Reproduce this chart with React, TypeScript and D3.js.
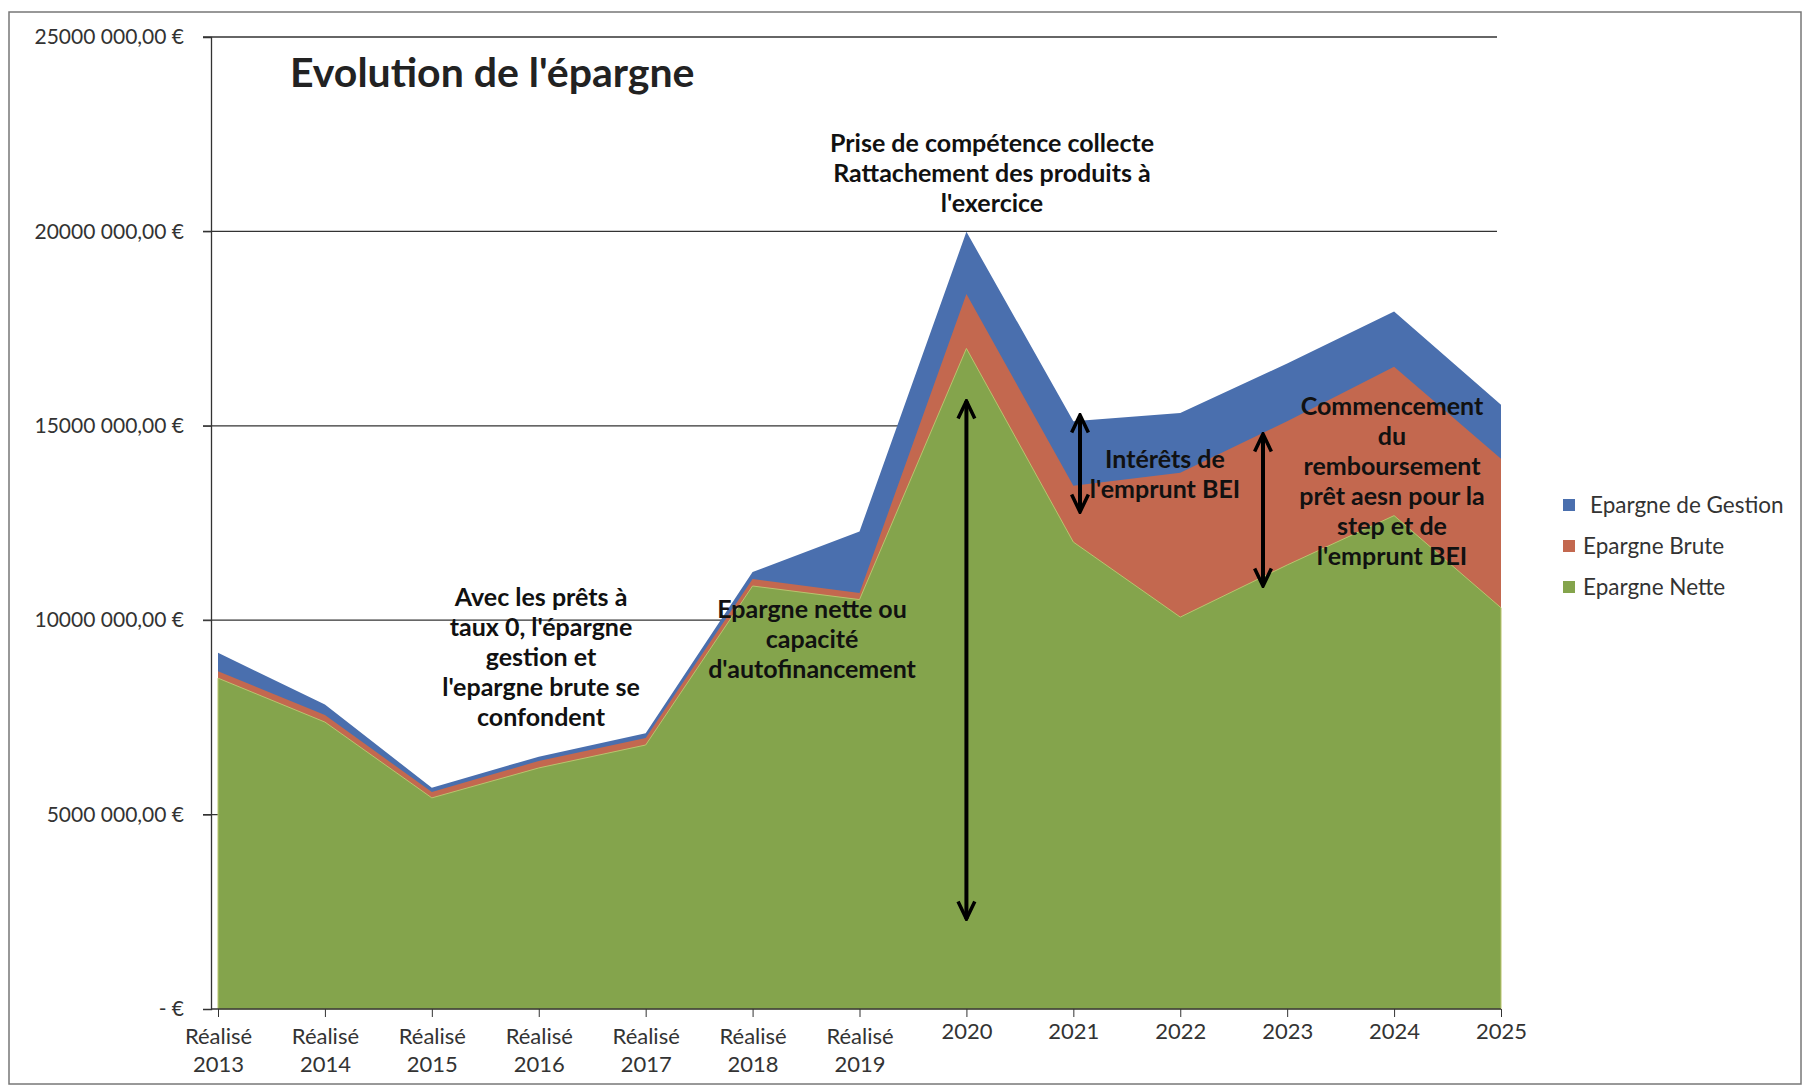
import React, { useEffect, useRef } from "react";
import * as d3 from "d3";

// categories on the x axis
const years = [
  "Réalisé 2013", "Réalisé 2014", "Réalisé 2015", "Réalisé 2016", "Réalisé 2017",
  "Réalisé 2018", "Réalisé 2019", "2020", "2021", "2022", "2023", "2024", "2025",
];

// values, in euros
const epargneGestion = [9.16e6, 7.83e6, 5.69e6, 6.49e6, 7.09e6, 11.24e6, 12.28e6, 19.99e6, 15.12e6, 15.33e6, 16.6e6, 17.94e6, 15.54e6];
const epargneBrute = [8.69e6, 7.56e6, 5.58e6, 6.38e6, 6.97e6, 11.06e6, 10.7e6, 18.39e6, 13.46e6, 13.79e6, 15.12e6, 16.52e6, 14.15e6];
const epargneNette = [8.51e6, 7.38e6, 5.43e6, 6.2e6, 6.79e6, 10.88e6, 10.53e6, 16.99e6, 12.01e6, 10.08e6, 11.42e6, 12.69e6, 10.32e6];

const yTicks = [0, 5e6, 10e6, 15e6, 20e6, 25e6];
const yTickLabels = ["-  €", "5000 000,00 €", "10000 000,00 €", "15000 000,00 €", "20000 000,00 €", "25000 000,00 €"];

const seriesNames = ["Epargne de Gestion", "Epargne Brute", "Epargne Nette"];
const seriesColors = ["#4a6fae", "#c3684f", "#84a44c"];

const FONT = "Lato, 'Open Sans', sans-serif";

const App = () => {
  const ref = useRef<SVGSVGElement>(null);

  useEffect(() => {
    const svg = d3.select(ref.current);
    svg.selectAll("*").remove();

    const x = d3.scalePoint().domain(years).range([218, 1501]);
    const y = d3.scaleLinear().domain([0, 25e6]).range([1009, 37]);

    // outer frame
    svg.append("rect")
      .attr("x", 9).attr("y", 12).attr("width", 1792).attr("height", 1072)
      .attr("fill", "none").attr("stroke", "#777").attr("stroke-width", 1.5);

    // gridlines
    svg.append("g")
      .selectAll("line")
      .data(yTicks.filter(d => d > 0))
      .enter()
      .append("line")
      .attr("x1", 203).attr("x2", 1497)
      .attr("y1", d => y(d)).attr("y2", d => y(d))
      .attr("stroke", "#333").attr("stroke-width", 1.3);

    // areas, back to front
    const series = [epargneGestion, epargneBrute, epargneNette];
    series.forEach((vals, i) => {
      const area = d3.area<number>()
        .x((d, j) => x(years[j]) as number)
        .y0(y(0))
        .y1(d => y(d));
      svg.append("path")
        .datum(vals)
        .attr("d", area)
        .attr("fill", seriesColors[i])
        .attr("stroke", i === 2 ? "#b9c46e" : "none")
        .attr("stroke-width", 1);
    });

    // y axis
    const yAxis = svg.append("g").attr("transform", "translate(211,0)")
      .call(d3.axisLeft(y).tickValues(yTicks).tickSize(8).tickFormat((d, i) => yTickLabels[i]));
    yAxis.select(".domain").attr("stroke", "#333").attr("stroke-width", 1.3);
    yAxis.selectAll(".tick line").attr("stroke", "#333");
    yAxis.selectAll("text")
      .attr("font-family", FONT).attr("font-size", 21).attr("fill", "#333")
      .attr("x", -27);

    // x axis
    const xAxis = svg.append("g").attr("transform", "translate(0,1009)")
      .call(d3.axisBottom(x).tickSize(8).tickFormat(() => ""));
    xAxis.select(".domain").attr("stroke", "#333").attr("stroke-width", 1.3)
      .attr("d", "M211,0H1501");
    xAxis.selectAll(".tick line").attr("stroke", "#333");
    xAxis.selectAll(".tick").each(function (d) {
      const parts = String(d).split(" ");
      const t = d3.select(this).append("text")
        .attr("text-anchor", "middle")
        .attr("font-family", FONT).attr("font-size", 22).attr("fill", "#333");
      if (parts.length === 2) {
        t.append("tspan").attr("x", 0).attr("y", 35).text(parts[0]);
        t.append("tspan").attr("x", 0).attr("y", 63).text(parts[1]);
      } else {
        t.append("tspan").attr("x", 0).attr("y", 30).text(parts[0]);
      }
    });

    // title
    svg.append("text")
      .attr("x", 290).attr("y", 87)
      .attr("font-family", FONT).attr("font-weight", "bold").attr("font-size", 41).attr("fill", "#222")
      .text("Evolution de l'épargne");

    // annotations
    const note = (cx: number, cy: number, lines: string[]) => {
      const t = svg.append("text")
        .attr("text-anchor", "middle")
        .attr("font-family", FONT).attr("font-size", 25)
        .attr("font-weight", "bold")
        .attr("fill", "#111");
      lines.forEach((l, i) => {
        t.append("tspan").attr("x", cx).attr("y", cy + i * 30).attr("dy", "0.35em").text(l);
      });
    };
    note(992, 143, ["Prise de compétence collecte", "Rattachement des produits à", "l'exercice"]);
    note(541, 597, ["Avec les prêts à", "taux 0, l'épargne", "gestion et", "l'epargne brute se", "confondent"]);
    note(812, 609, ["Epargne nette ou", "capacité", "d'autofinancement"]);
    note(1165, 459, ["Intérêts de", "l'emprunt BEI"]);
    note(1392, 406, ["Commencement", "du", "remboursement", "prêt aesn pour la", "step et de", "l'emprunt BEI"]);

    // double arrows
    const defs = svg.append("defs");
    defs.append("marker")
      .attr("id", "ah").attr("viewBox", "0 0 10 10").attr("refX", 9).attr("refY", 5)
      .attr("markerWidth", 5.5).attr("markerHeight", 5.5).attr("orient", "auto-start-reverse")
      .attr("markerUnits", "strokeWidth")
      .append("path").attr("d", "M1,1.2 L9,5 L1,8.8").attr("fill", "none").attr("stroke", "#000")
      .attr("stroke-width", 1.6).attr("stroke-linejoin", "miter");
    const arrows = [
      { ax: x("2020") as number, y1: 401, y2: 919 },
      { ax: 1080, y1: 415, y2: 512 },
      { ax: 1263, y1: 434, y2: 586 },
    ];
    svg.append("g").selectAll("line").data(arrows).enter().append("line")
      .attr("x1", d => d.ax).attr("x2", d => d.ax)
      .attr("y1", d => d.y1).attr("y2", d => d.y2)
      .attr("stroke", "#000").attr("stroke-width", 4)
      .attr("marker-start", "url(#ah)").attr("marker-end", "url(#ah)");

    // legend
    const lg = svg.append("g").selectAll("g").data(seriesNames).enter().append("g")
      .attr("transform", (d, i) => `translate(1563,${505 + i * 41})`);
    lg.append("rect").attr("x", 0).attr("y", -6).attr("width", 12).attr("height", 12)
      .attr("fill", (d, i) => seriesColors[i]);
    lg.append("text").attr("x", (d, i) => (i === 0 ? 27 : 20)).attr("dy", "0.35em")
      .attr("font-family", FONT).attr("font-size", 22.5).attr("fill", "#333")
      .text(d => d);
  }, []);

  return (
    <svg ref={ref} width={1808} height={1089}
      style={{ position: "absolute", left: 0, top: 0, background: "#fff" }} />
  );
};

export default App;
